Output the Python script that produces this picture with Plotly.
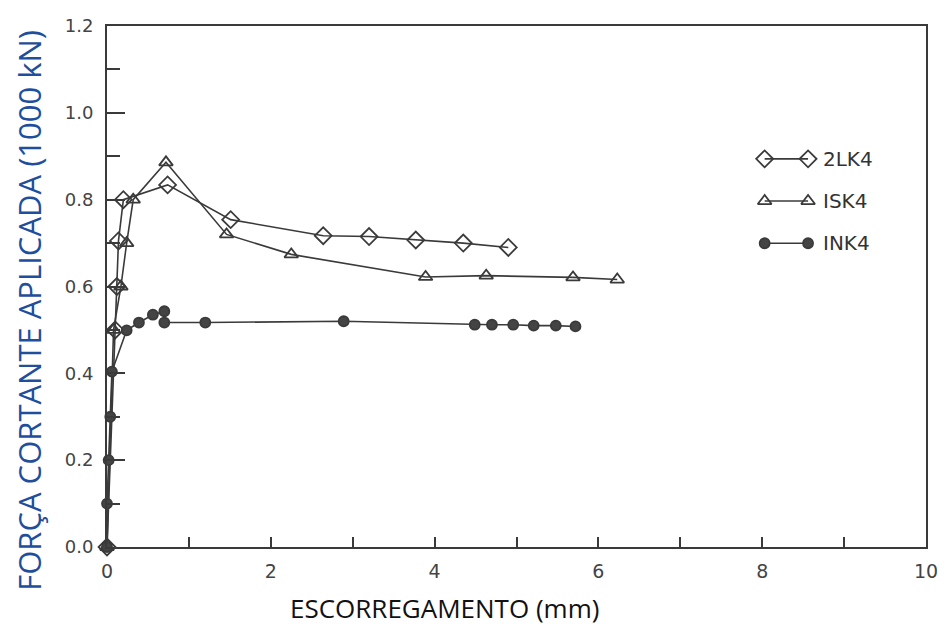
import plotly.graph_objects as go

# Data (x: slip in mm, y: applied shear in 1000 kN)
lk4_x = [0.0, 0.10, 0.12, 0.14, 0.20, 0.74, 1.51, 2.64, 3.20, 3.77, 4.35, 4.90]
lk4_y = [0.0, 0.50, 0.60, 0.705, 0.80, 0.834, 0.754, 0.717, 0.715, 0.707, 0.700, 0.690]

isk4_x = [0.0, 0.08, 0.17, 0.24, 0.32, 0.72, 1.46, 2.25, 3.89, 4.63, 5.69, 6.23]
isk4_y = [0.0, 0.50, 0.60, 0.70, 0.80, 0.886, 0.72, 0.674, 0.622, 0.625, 0.621, 0.616]

ink4_x = [0.0, 0.0, 0.02, 0.04, 0.06, 0.24, 0.39, 0.56, 0.70, 0.70, 1.20, 2.89,
          4.49, 4.70, 4.96, 5.21, 5.48, 5.72]
ink4_y = [0.0, 0.10, 0.20, 0.30, 0.404, 0.499, 0.517, 0.535, 0.543, 0.517, 0.517, 0.52,
          0.512, 0.512, 0.512, 0.51, 0.51, 0.508]

series_names = ["2LK4", "ISK4", "INK4"]
x_ticks = [0, 2, 4, 6, 8, 10]
y_ticks = [0.0, 0.2, 0.4, 0.6, 0.8, 1.0, 1.2]
y_tick_text = ["0.0", "0.2", "0.4", "0.6", "0.8", "1.0", "1.2"]

INK = "#3a3a3a"
fig = go.Figure()

styles = [
    dict(symbol="diamond-open", size=13, color=INK),
    dict(symbol="triangle-up-open", size=12, color=INK),
    dict(symbol="circle", size=10, color="#444444"),
]
for (xs, ys), name, st in zip([(lk4_x, lk4_y), (isk4_x, isk4_y), (ink4_x, ink4_y)],
                              series_names, styles):
    fig.add_trace(go.Scatter(
        x=xs, y=ys, mode="lines+markers", name=name, showlegend=False,
        line=dict(color=INK, width=1.6),
        marker=dict(symbol=st["symbol"], size=st["size"], color=st["color"],
                    line=dict(color=INK, width=1.8)),
        cliponaxis=False,
    ))

# custom legend drawn on a hidden 0..1 overlay axis
leg_y = [0.745, 0.664, 0.583]
for name, st, ly in zip(series_names, styles, leg_y):
    fig.add_trace(go.Scatter(
        x=[0.803, 0.856], y=[ly, ly], xaxis="x2", yaxis="y2",
        mode="lines+markers", showlegend=False, hoverinfo="skip",
        line=dict(color=INK, width=1.6),
        marker=dict(symbol=st["symbol"], size=st["size"], color=st["color"],
                    line=dict(color=INK, width=1.8)),
    ))
    fig.add_annotation(x=0.872, y=ly, xref="x2", yref="y2", text=name,
                       showarrow=False, xanchor="left", yanchor="middle",
                       font=dict(family="DejaVu Sans", size=20, color="#333333"))

fig.update_layout(
    width=950, height=628,
    margin=dict(l=107, r=15, t=26, b=81),
    paper_bgcolor="white", plot_bgcolor="white",
    showlegend=False,
    xaxis=dict(range=[0, 10], tickvals=x_ticks, ticks="inside", ticklen=10,
               tickcolor=INK, tickwidth=1.5,
               minor=dict(dtick=1, ticks="inside", ticklen=10, tickcolor=INK, tickwidth=1.5),
               showline=True, linecolor=INK, linewidth=2, mirror=True,
               showgrid=False, zeroline=False, ticklabelstandoff=6,
               tickfont=dict(family="DejaVu Sans", size=19, color="#444444")),
    yaxis=dict(range=[0, 1.2], tickvals=y_ticks, ticktext=y_tick_text,
               ticks="inside", ticklen=18, tickcolor=INK, tickwidth=1.5,
               minor=dict(dtick=0.1, ticks="inside", ticklen=13, tickcolor=INK, tickwidth=1.5),
               showline=True, linecolor=INK, linewidth=2, mirror=True,
               showgrid=False, zeroline=False, ticklabelstandoff=8,
               tickfont=dict(family="DejaVu Sans", size=18, color="#444444")),
    xaxis2=dict(range=[0, 1], overlaying="x", visible=False),
    yaxis2=dict(range=[0, 1], overlaying="y", visible=False),
)

# axis titles
fig.add_annotation(xref="paper", yref="paper", x=(28 - 107) / 828, y=0.455,
                   text="FORÇA CORTANTE APLICADA (1000 kN)", textangle=-90,
                   showarrow=False, xanchor="center", yanchor="middle",
                   font=dict(family="Open Sans", size=31, color="#1f4e9c"))
fig.add_annotation(xref="paper", yref="paper", x=(448 - 107) / 828, y=-0.118,
                   text="ESCORREGAMENTO (mm)", showarrow=False,
                   xanchor="center", yanchor="middle",
                   font=dict(family="Open Sans", size=26, color="#111111"))

fig.write_html("out.html")
